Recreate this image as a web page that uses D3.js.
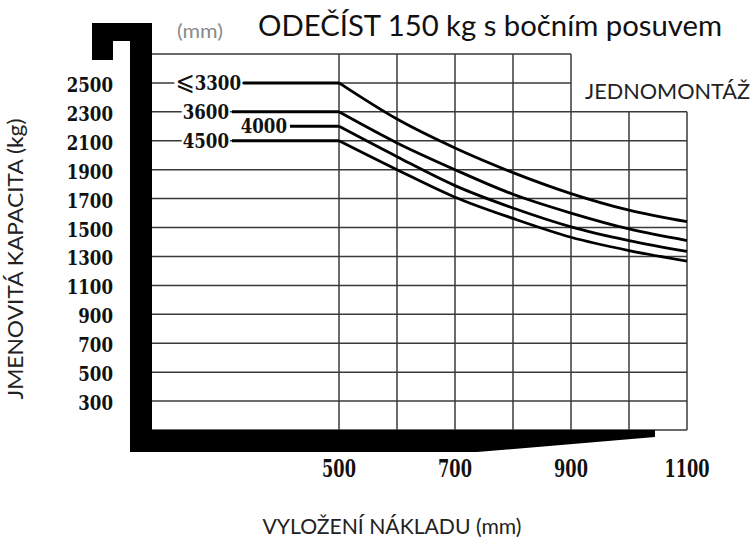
<!DOCTYPE html>
<html>
<head>
<meta charset="utf-8">
<script src="https://cdn.jsdelivr.net/npm/d3@7"></script>
<style>
  html, body { margin: 0; padding: 0; background: #fff; }
  svg { display: block; }
</style>
</head>
<body>
<svg id="chart" width="755" height="544"></svg>
<script>
// ---- data ----
const reach = [500, 600, 700, 800, 900, 1000, 1100];           // mm
const cap3300 = [2500, 2250, 2050, 1880, 1735, 1620, 1540];    // kg
const cap3600 = [2300, 2085, 1900, 1730, 1600, 1490, 1410];
const cap4000 = [2200, 1990, 1790, 1635, 1505, 1410, 1335];
const cap4500 = [2100, 1900, 1710, 1563, 1433, 1341, 1268];
const mastLabels = ["\u2A7D3300", "3600", "4000", "4500"];
const xTickLabels = [500, 700, 900, 1100];
const yTickLabels = [300, 500, 700, 900, 1100, 1300, 1500, 1700, 1900, 2100, 2300, 2500];
const xGrid = [500, 600, 700, 800, 900, 1000, 1100];
const yGrid = [100, 300, 500, 700, 900, 1100, 1300, 1500, 1700, 1900, 2100, 2300, 2500, 2700];
const titleText = "ODEČÍST 150 kg s bočním posuvem";
const unitText = "(mm)";
const modeText = "JEDNOMONTÁŽ";
const yTitle = "JMENOVITÁ KAPACITA (kg)";
const xTitle = "VYLOŽENÍ NÁKLADU (mm)";

// ---- layout ----
const svg = d3.select("#chart");
const x = d3.scaleLinear().domain([500, 1100]).range([339, 687]);
const y = d3.scaleLinear().domain([100, 2700]).range([430, 54]);
const plotLeft = 152;
const numFont = "'DejaVu Serif Condensed', 'DejaVu Serif', serif";
const sansFont = "Lato, 'Open Sans', sans-serif";

// grid
const grid = svg.append("g").attr("stroke", "#3a3a3a").attr("stroke-width", 1.5);
grid.selectAll("line.h").data(yGrid).join("line")
  .attr("x1", plotLeft - 4)
  .attr("x2", d => d >= 2500 ? x(900) : x(1100))
  .attr("y1", d => y(d)).attr("y2", d => y(d));
grid.selectAll("line.v").data(xGrid).join("line")
  .attr("x1", d => x(d)).attr("x2", d => x(d))
  .attr("y1", y(100))
  .attr("y2", d => d > 900 ? y(2300) : y(2700));

// black mast + fork shape
svg.append("path")
  .attr("d", "M92,23 H152 V430 H655 V437 L477,452 H130 V41 H113 V60 H92 Z")
  .attr("fill", "#000");

// curves
const series = [cap3300, cap3600, cap4000, cap4500];
const flatStart = [243, 232, 290, 232];   // pixel x where the thick flat segment begins
const labelPos = [
  {x: 241, y: y(2500)}, {x: 229, y: y(2300)}, {x: 287, y: y(2200) - 1}, {x: 229, y: y(2100)}
];
const line = d3.line().x((d, i) => x(reach[i])).y(d => y(d)).curve(d3.curveMonotoneX);

series.forEach((s, k) => {
  svg.append("line")
    .attr("x1", flatStart[k]).attr("x2", x(reach[0]))
    .attr("y1", y(s[0])).attr("y2", y(s[0]))
    .attr("stroke", "#000").attr("stroke-width", 3);
  svg.append("path").datum(s)
    .attr("d", line)
    .attr("fill", "none").attr("stroke", "#000").attr("stroke-width", 2.8);
});

function numText(parent, tx, ty, str, size, sx, anchor) {
  const t = parent.append("text")
    .attr("transform", `translate(${tx},${ty}) scale(${sx},1)`)
    .attr("text-anchor", anchor)
    .attr("font-family", numFont).attr("font-weight", "bold")
    .attr("font-size", size).attr("fill", "#111");
  const s = String(str);
  if (s.startsWith("\u2A7D")) {
    t.append("tspan").attr("font-family", "'DejaVu Sans', sans-serif")
      .attr("font-weight", "normal").attr("font-size", size * 1.25)
      .text("\u2A7D");
    t.append("tspan").text(s.slice(1));
  } else {
    t.text(s);
  }
  return t;
}

// mast labels
mastLabels.forEach((t, k) => {
  const g = svg.append("g");
  const txt = numText(g, labelPos[k].x, labelPos[k].y + 7.5, t, 21, 0.88, "end");
  const bb = txt.node().getBBox();
  const sx = 0.88;
  g.insert("rect", "text")
    .attr("x", labelPos[k].x + bb.x * sx - 1)
    .attr("y", labelPos[k].y + 7.5 + bb.y + 3)
    .attr("width", bb.width * sx + 2).attr("height", bb.height - 6)
    .attr("fill", "#fff");
});

// y tick labels
const yt = svg.append("g");
yTickLabels.forEach(d => numText(yt, 113, y(d) + 9, d, 21, 0.88, "end"));

// x tick labels
const xt = svg.append("g");
xTickLabels.forEach(d => numText(xt, x(d), 477, d, 24, 0.75, "middle"));

// texts
svg.append("text").attr("x", 177).attr("y", 38)
  .attr("font-family", sansFont).attr("font-size", 19).attr("fill", "#8a8a8a")
  .attr("textLength", 46).attr("lengthAdjust", "spacingAndGlyphs")
  .text(unitText);
svg.append("text").attr("x", 258).attr("y", 36)
  .attr("font-family", sansFont).attr("font-size", 28).attr("fill", "#111")
  .attr("textLength", 464).attr("lengthAdjust", "spacingAndGlyphs")
  .text(titleText);
svg.append("text").attr("x", 585).attr("y", 99)
  .attr("font-family", sansFont).attr("font-size", 21).attr("fill", "#222")
  .attr("textLength", 165).attr("lengthAdjust", "spacingAndGlyphs")
  .text(modeText);
svg.append("text")
  .attr("transform", "translate(23,259) rotate(-90)")
  .attr("text-anchor", "middle")
  .attr("font-family", sansFont).attr("font-size", 21).attr("fill", "#222")
  .attr("textLength", 281).attr("lengthAdjust", "spacingAndGlyphs")
  .text(yTitle);
svg.append("text")
  .attr("x", 392).attr("y", 534)
  .attr("text-anchor", "middle")
  .attr("font-family", sansFont).attr("font-size", 21).attr("fill", "#222")
  .attr("textLength", 259).attr("lengthAdjust", "spacingAndGlyphs")
  .text(xTitle);
</script>
</body>
</html>
